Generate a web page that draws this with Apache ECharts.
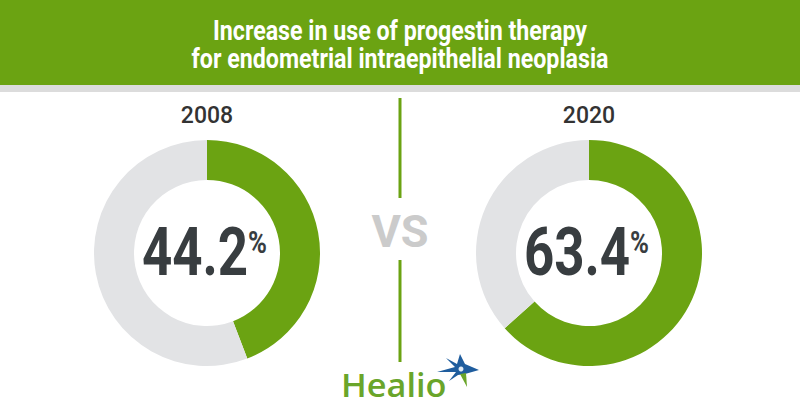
<!DOCTYPE html>
<html>
<head>
<meta charset="utf-8">
<script src="https://cdn.jsdelivr.net/npm/echarts@6/dist/echarts.min.js"></script>
<style>
html,body{margin:0;padding:0;background:#fff;}
#c{width:800px;height:420px;}
</style>
</head>
<body>
<div id="c"></div>
<script>
// ---- data ----
const titleLines = ['Increase in use of progestin therapy', 'for endometrial intraepithelial neoplasia'];
const years = ['2008', '2020'];
const progestinShare = [44.2, 63.4];
const otherShare = [55.8, 36.6];
const compareLabel = 'VS';
const brand = 'Healio';

// ---- style / layout ----
const GREEN = '#6ba312';
const GREY = '#e2e3e5';
const DARK = '#383d40';
const centers = [[207, 253], [589, 253]];
const FONT = 'Roboto, "Noto Sans", sans-serif';

const chart = echarts.init(document.getElementById('c'), null, {renderer: 'svg'});

const series = years.map((y, i) => ({
  type: 'pie',
  name: y,
  radius: [73, 113],
  center: centers[i],
  startAngle: 90,
  clockwise: true,
  silent: true,
  animation: false,
  label: {show: false},
  labelLine: {show: false},
  itemStyle: {borderWidth: 0},
  data: [
    {value: progestinShare[i], name: 'Progestin therapy', itemStyle: {color: GREEN}},
    {value: otherShare[i], name: 'Other', itemStyle: {color: GREY}}
  ]
}));

const graphic = [
  {type: 'rect', shape: {x: 0, y: 0, width: 800, height: 85}, style: {fill: GREEN}, silent: true},
  {type: 'rect', shape: {x: 0, y: 85, width: 800, height: 7}, style: {fill: '#dcdcdc'}, silent: true},
];
titleLines.forEach((t, i) => {
  graphic.push({type: 'text', x: 400, y: 31 + i * 28, scaleX: 0.86,
    style: {text: t, fill: '#ffffff', font: 'bold 27px ' + FONT, textAlign: 'center', textVerticalAlign: 'middle'}});
});
years.forEach((y, i) => {
  const [cx, cy] = centers[i];
  graphic.push({type: 'text', x: cx, y: 115,
    style: {text: y, fill: '#333333', font: '500 23px ' + FONT, textAlign: 'center', textVerticalAlign: 'middle'}});
  graphic.push({type: 'text', x: cx - 12, y: cy, scaleX: 0.8,
    style: {text: progestinShare[i].toFixed(1), fill: DARK, font: 'bold 66px ' + FONT, textAlign: 'center', textVerticalAlign: 'middle'}});
  graphic.push({type: 'text', x: cx + 41, y: cy - 11, scaleX: 0.8,
    style: {text: '%', fill: DARK, font: 'bold 32px ' + FONT, textAlign: 'left', textVerticalAlign: 'middle'}});
});
// divider
graphic.push({type: 'line', shape: {x1: 400, y1: 98, x2: 400, y2: 198}, style: {stroke: GREEN, lineWidth: 3}});
graphic.push({type: 'line', shape: {x1: 400, y1: 260, x2: 400, y2: 362}, style: {stroke: GREEN, lineWidth: 3}});
graphic.push({type: 'text', x: 400, y: 231,
  style: {text: compareLabel, fill: '#cbcbcb', font: 'bold 45px ' + FONT, textAlign: 'center', textVerticalAlign: 'middle'}});
// brand
graphic.push({type: 'text', x: 341, y: 384, scaleX: 1.04,
  style: {text: brand, fill: '#6aa52a', font: '600 33px "Open Sans", sans-serif', textAlign: 'left', textVerticalAlign: 'middle'}});
graphic.push({type: 'polygon', shape: {points: [
  [460, 354], [465, 364], [479, 370], [465, 374], [458, 375], [449, 381], [456, 372],
  [437, 372], [455, 367], [446, 358], [457, 364]
]}, style: {fill: '#1f5d9e'}});
graphic.push({type: 'polygon', shape: {points: [
  [460, 374], [466, 373], [467, 387]
]}, style: {fill: '#6aa52a'}});
graphic.push({type: 'circle', shape: {cx: 461, cy: 369, r: 2.5}, style: {fill: '#dfeaf5'}});

chart.setOption({
  animation: false,
  backgroundColor: '#ffffff',
  series: series,
  graphic: graphic
});
</script>
</body>
</html>
